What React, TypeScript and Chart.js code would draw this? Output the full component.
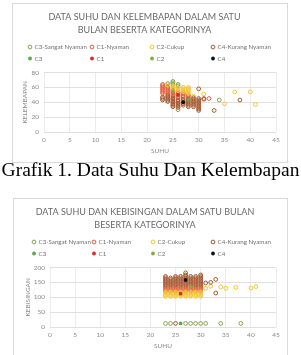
import React, { useEffect, useRef } from 'react';
import { Chart, registerables } from 'chart.js';

Chart.register(...registerables);

if (typeof document !== 'undefined') {
  document.body.style.margin = '0';
  document.documentElement.style.overflow = 'hidden';
}

const FONT = 'Lato, "Open Sans", sans-serif';
const TITLE_COLOR = '#6a6a6a';
const LEGEND_COLOR = '#707070';
const TICK_COLOR = '#8a8a8a';

// ---------- shared labels / tick values ----------
const seriesLabels = ['C3-Sangat Nyaman', 'C1-Nyaman', 'C2-Cukup', 'C4-Kurang Nyaman', 'C3', 'C1', 'C2', 'C4'];
const seriesColors = ['#86A452', '#E2603C', '#F2C52E', '#A5582F', '#55AE46', '#E0282A', '#8DA83A', '#111111'];
const seriesHollow = [true, true, true, true, false, false, false, false];
const xTitle = 'SUHU';
const xMin = 0;
const xMax = 45;
const xStep = 5;

// ---------- chart 1: suhu vs kelembapan ----------
const title1 = ['DATA SUHU DAN KELEMBAPAN DALAM SATU', 'BULAN BESERTA KATEGORINYA'];
const yTitle1 = 'KELEMBAPAN';
const yMax1 = 80;
const yStep1 = 20;

const hum_C3SN: [number, number][] = [[25, 64], [25, 66], [25, 68], [24, 65], [26, 62], [26, 64], [26, 30], [34, 43]];
const hum_C1N: [number, number][] = [
  [23, 52], [23, 54], [23, 56], [23, 58], [23, 60], [23, 62], [23, 64],
  [24, 51], [24, 53], [24, 55], [24, 57], [24, 59], [24, 61],
  [25, 48], [25, 50], [25, 52], [25, 54], [25, 56],
  [26, 46], [26, 48], [26, 50], [26, 52], [26, 54],
  [27, 47], [27, 49], [27, 51], [27, 53],
  [28, 46], [28, 48], [28, 50],
  [31, 44], [32, 45],
];
const hum_C2C: [number, number][] = [
  [24, 63], [25, 58], [25, 60], [25, 62], [26, 56], [26, 58], [26, 60],
  [27, 54], [27, 56], [27, 58], [27, 60], [28, 52], [28, 54], [28, 56], [28, 58], [28, 60],
  [29, 48], [31, 51], [35, 38], [37, 54], [40, 54], [41, 37],
];
const hum_C4KN: [number, number][] = [
  [23, 43], [23, 45], [23, 47],
  [24, 41], [24, 43], [24, 45], [24, 47], [24, 49],
  [25, 34], [25, 36], [25, 38], [25, 40], [25, 42], [25, 44], [25, 46],
  [26, 33], [26, 35], [26, 37], [26, 39], [26, 41], [26, 43],
  [27, 36], [27, 38], [27, 40], [27, 42], [27, 44],
  [28, 34], [28, 36], [28, 38], [28, 40], [28, 42], [28, 44],
  [29, 34], [29, 36], [29, 38], [29, 40], [29, 42], [29, 44], [29, 46],
  [30, 29], [30, 31], [30, 33], [30, 35], [30, 37], [30, 39], [30, 41], [30, 43], [30, 45],
  [30, 58], [31, 45], [33, 29], [38, 43],
];
const hum_C3: [number, number][] = [[28, 44]];
const hum_C1: [number, number][] = [[26, 50]];
const hum_C2: [number, number][] = [[25, 55]];
const hum_C4: [number, number][] = [[27, 40]];

// ---------- chart 2: suhu vs kebisingan ----------
const title2 = ['DATA SUHU DAN KEBISINGAN DALAM SATU BULAN', 'BESERTA KATEGORINYA'];
const yTitle2 = 'KEBISINGAN';
const yMax2 = 200;
const yStep2 = 50;

const noi_C3SN: [number, number][] = [[23, 12], [24, 12], [27, 12], [28, 12], [29, 12], [30, 12], [31, 12], [34, 12], [38, 12]];
const noi_C1N: [number, number][] = [
  [23, 120], [23, 125], [23, 130], [23, 135],
  [24, 120], [24, 125], [24, 130], [24, 135],
  [25, 120], [25, 125], [25, 130], [25, 135],
  [26, 120], [26, 125], [26, 130], [26, 135],
  [27, 120], [27, 125], [27, 130], [27, 135],
  [28, 120], [28, 125], [28, 130], [28, 135],
  [29, 120], [29, 125], [29, 130], [29, 135],
  [30, 120], [30, 125], [30, 130], [30, 135],
];
const noi_C2C: [number, number][] = [
  [23, 103], [23, 108], [23, 113], [23, 118],
  [24, 103], [24, 108], [24, 113], [24, 118],
  [25, 103], [25, 108], [25, 113], [25, 118],
  [26, 103], [26, 108], [26, 113], [26, 118],
  [27, 103], [27, 108], [27, 113], [27, 118],
  [28, 103], [28, 108], [28, 113], [28, 118],
  [29, 103], [29, 108], [29, 113], [29, 118],
  [30, 103], [30, 108], [30, 113], [30, 118],
  [31, 130], [32, 137], [34, 135], [35, 130], [37, 133], [40, 131], [41, 136],
];
const noi_C4KN: [number, number][] = [
  [23, 140], [23, 145], [23, 150], [23, 155], [23, 160], [23, 165], [23, 170],
  [24, 140], [24, 145], [24, 150], [24, 155], [24, 160], [24, 165],
  [25, 140], [25, 145], [25, 150], [25, 155], [25, 160], [25, 165], [25, 170],
  [26, 140], [26, 145], [26, 150], [26, 155], [26, 160], [26, 165], [26, 170],
  [27, 140], [27, 145], [27, 150], [27, 155], [27, 160], [27, 165], [27, 170], [27, 175], [27, 182],
  [28, 140], [28, 145], [28, 150], [28, 155], [28, 160], [28, 165], [28, 170],
  [29, 140], [29, 145], [29, 150], [29, 155], [29, 160], [29, 165], [29, 170],
  [30, 140], [30, 145], [30, 150], [30, 155], [30, 160], [30, 165], [30, 170], [30, 175],
  [31, 148], [32, 150], [33, 160], [33, 114], [25, 12],
];
const noi_C3: [number, number][] = [[26, 12]];
const noi_C1: [number, number][] = [[26, 112]];
const noi_C2: [number, number][] = [[28, 135]];
const noi_C4: [number, number][] = [[27, 158]];

const caption1 = 'Grafik 1. Data Suhu Dan Kelembapan';

// ---------- legend plugin (Excel-like grid legend) ----------
const excelLegend = {
  id: 'excelLegend',
  afterDraw(chart: any, _args: any, opts: any) {
    const ctx: CanvasRenderingContext2D = chart.ctx;
    ctx.save();
    ctx.font = `${opts.fontSize}px ${FONT}`;
    ctx.textBaseline = 'middle';
    ctx.textAlign = 'left';
    chart.data.datasets.forEach((ds: any, i: number) => {
      const col = i % 4;
      const row = Math.floor(i / 4);
      const x = opts.cols[col];
      const y = opts.rows[row];
      ctx.beginPath();
      ctx.arc(x, y, 1.9, 0, Math.PI * 2);
      if (seriesHollow[i]) {
        ctx.lineWidth = 1;
        ctx.strokeStyle = ds.borderColor;
        ctx.stroke();
      } else {
        ctx.fillStyle = ds.backgroundColor;
        ctx.fill();
      }
      ctx.fillStyle = LEGEND_COLOR;
      ctx.fillText(ds.label, x + 4.5, y + 0.5);
    });
    ctx.restore();
  },
};

type Spec = {
  title: string[];
  yTitle: string;
  yMax: number;
  yStep: number;
  series: [number, number][][];
  yAxisWidth: number;
  yTitlePad: number;
  legendCols: number[];
};

function buildConfig(spec: Spec, width: number, height: number): any {
  const datasets = spec.series.map((pts, i) => ({
    label: seriesLabels[i],
    data: pts.map(([x, y]) => ({ x, y })),
    pointStyle: 'circle',
    pointRadius: 1.9,
    pointBorderWidth: seriesHollow[i] ? 1 : 0,
    borderColor: seriesColors[i],
    backgroundColor: seriesHollow[i] ? 'rgba(0,0,0,0)' : seriesColors[i],
    showLine: false,
    order: 8 - i,
  }));
  const plotTop = 68.5;
  const plotBottom = 128;
  const titleFont = 9;
  const titleLH = 13.5;
  const titlePadTop = 13 - titleLH / 2;
  const titlePadBottom = plotTop - titlePadTop - titleLH * spec.title.length;
  const tickFont = { family: FONT, size: 6.5 };
  return {
    type: 'scatter',
    data: { datasets },
    plugins: [excelLegend],
    options: {
      animation: false,
      responsive: false,
      maintainAspectRatio: false,
      devicePixelRatio: 1,
      layout: { padding: { left: 0, right: 11, top: 0, bottom: 0 } },
      plugins: {
        legend: { display: false },
        tooltip: { enabled: false },
        title: {
          display: true,
          text: spec.title,
          color: TITLE_COLOR,
          font: { family: FONT, size: titleFont, weight: 'normal', lineHeight: titleLH / titleFont },
          padding: { top: titlePadTop, bottom: titlePadBottom },
        },
        excelLegend: { fontSize: 6.2, cols: spec.legendCols, rows: [43, 54.5] },
      },
      scales: {
        x: {
          type: 'linear',
          min: xMin,
          max: xMax,
          ticks: { stepSize: xStep, color: TICK_COLOR, font: tickFont, padding: 4.1 },
          grid: { color: '#ececec', drawTicks: false, lineWidth: 1 },
          border: { display: false },
          title: {
            display: true,
            text: xTitle,
            color: TICK_COLOR,
            font: { family: FONT, size: 6.5, lineHeight: 1.2 },
            padding: { top: 0, bottom: 7.1 },
          },
          afterFit: (s: any) => { s.height = height - plotBottom; },
        },
        y: {
          type: 'linear',
          min: 0,
          max: spec.yMax,
          ticks: { stepSize: spec.yStep, color: TICK_COLOR, font: tickFont, padding: 5 },
          grid: { color: '#e0e0e0', drawTicks: false, lineWidth: 1 },
          border: { display: false },
          title: {
            display: true,
            text: spec.yTitle,
            color: TICK_COLOR,
            font: { family: FONT, size: 6.5, lineHeight: 1.2 },
            padding: { top: spec.yTitlePad, bottom: 0 },
          },
          afterFit: (s: any) => { s.width = spec.yAxisWidth; },
        },
      },
    },
  };
}

function ScatterBox(props: { left: number; top: number; width: number; height: number; spec: Spec }) {
  const { left, top, width, height, spec } = props;
  const ref = useRef<HTMLCanvasElement>(null);
  useEffect(() => {
    const chart = new Chart(ref.current as HTMLCanvasElement, buildConfig(spec, width, height));
    return () => chart.destroy();
  }, []);
  return (
    <div
      style={{
        position: 'absolute',
        left,
        top,
        width,
        height,
        border: '1px solid #d9d9d9',
        background: '#fff',
      }}
    >
      <canvas ref={ref} width={width} height={height} style={{ display: 'block', width, height }} />
    </div>
  );
}

const spec1: Spec = {
  title: title1,
  yTitle: yTitle1,
  yMax: yMax1,
  yStep: yStep1,
  series: [hum_C3SN, hum_C1N, hum_C2C, hum_C4KN, hum_C3, hum_C1, hum_C2, hum_C4],
  yAxisWidth: 31,
  yTitlePad: 8.1,
  legendCols: [17, 79, 139, 200],
};

const spec2: Spec = {
  title: title2,
  yTitle: yTitle2,
  yMax: yMax2,
  yStep: yStep2,
  series: [noi_C3SN, noi_C1N, noi_C2C, noi_C4KN, noi_C3, noi_C1, noi_C2, noi_C4],
  yAxisWidth: 36,
  yTitlePad: 10.1,
  legendCols: [20, 80, 139, 199],
};

export default function App() {
  return (
    <div style={{ position: 'relative', width: 301, height: 355, overflow: 'hidden', background: '#fff' }}>
      <ScatterBox left={12} top={3} width={274} height={158} spec={spec1} />
      <div
        style={{
          position: 'absolute',
          left: 0,
          top: 160,
          width: 301,
          textAlign: 'center',
          whiteSpace: 'nowrap',
          fontFamily: '"Liberation Serif", "Times New Roman", serif',
          fontSize: 19.5,
          lineHeight: '19px',
          color: '#000',
        }}
      >
        {caption1}
      </div>
      <ScatterBox left={13} top={198} width={273} height={158} spec={spec2} />
    </div>
  );
}
